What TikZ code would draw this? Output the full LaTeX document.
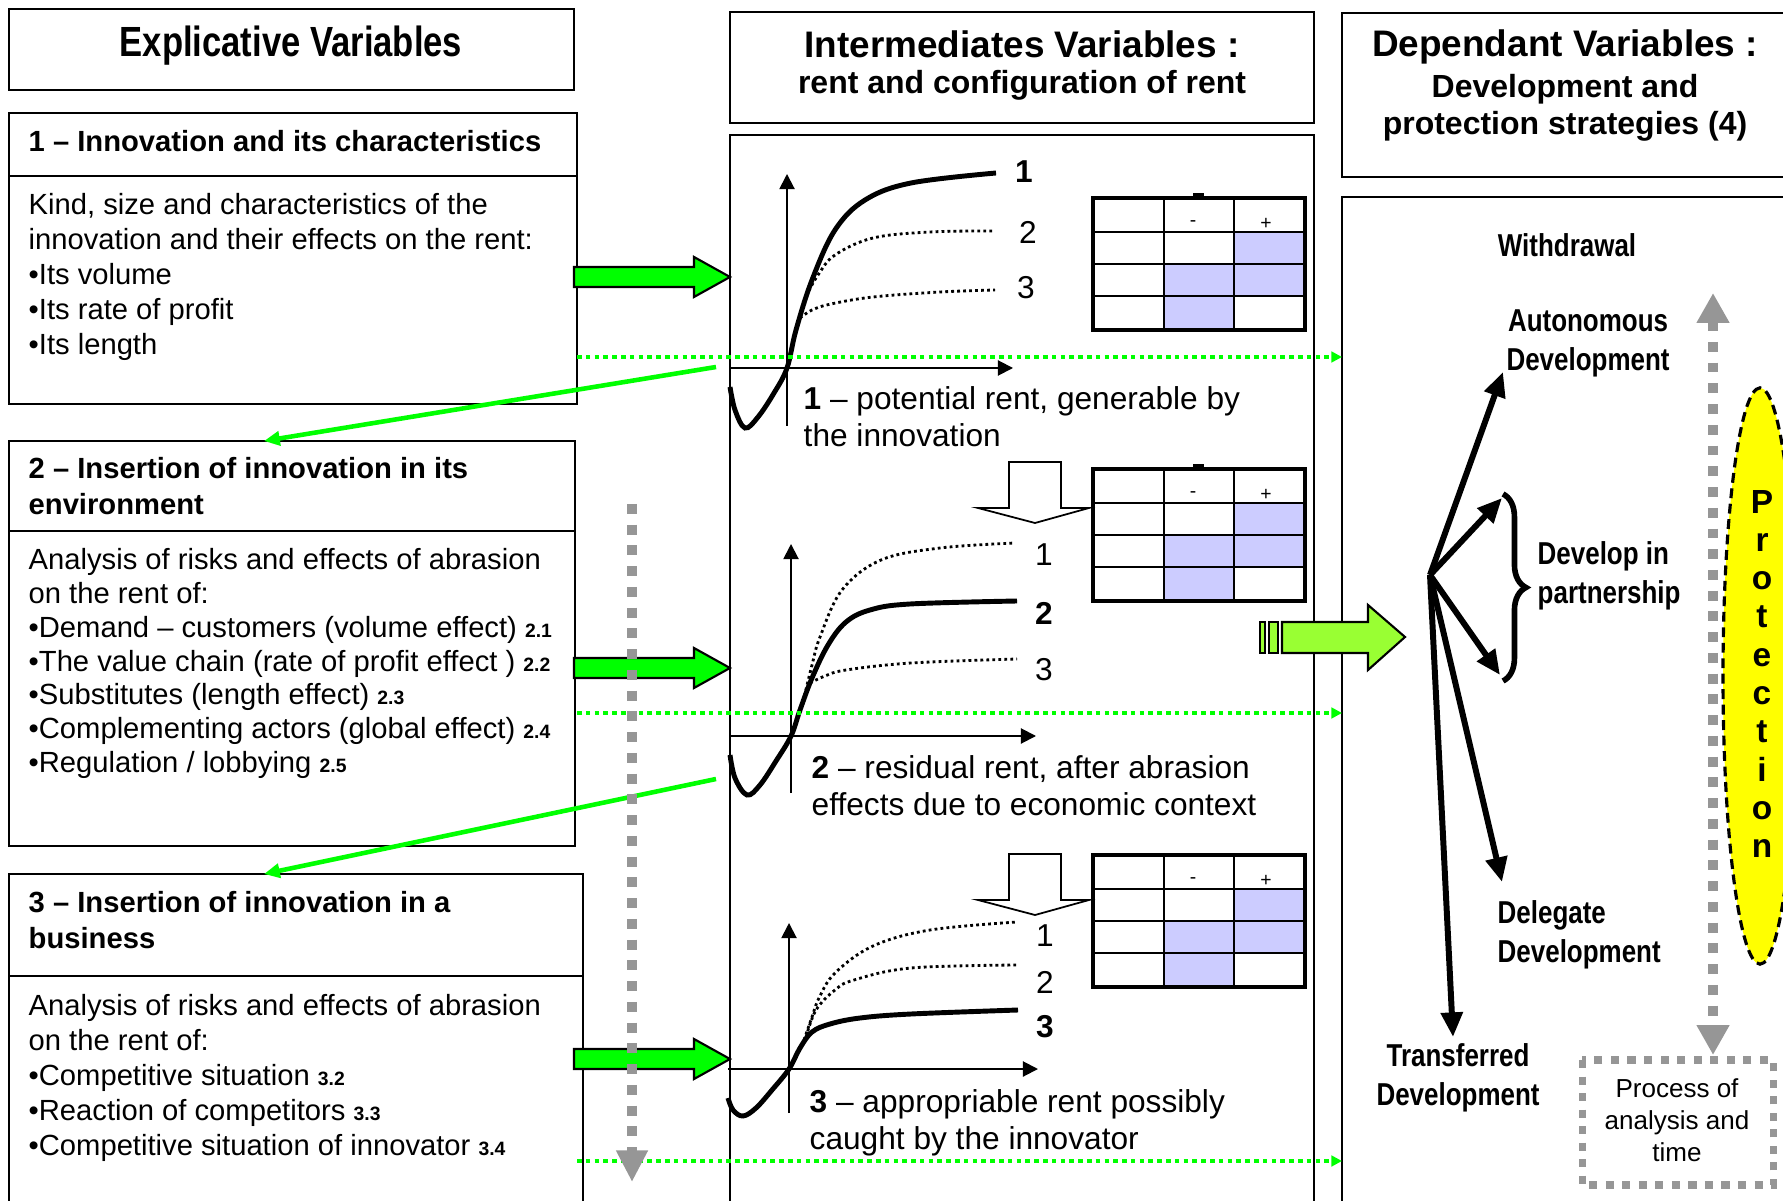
\documentclass[tikz,border=0pt]{standalone}
\usepackage{fontspec}
\setmainfont{Liberation Sans}
\newfontfamily\narrowfont[FakeStretch=0.82]{Liberation Sans}
\usepackage{tikz}
\usetikzlibrary{arrows.meta,decorations.pathreplacing}
\definecolor{mygreen}{RGB}{0,255,0}
\definecolor{mylime}{RGB}{153,255,51}
\definecolor{mylilac}{RGB}{204,204,255}
\definecolor{mygray}{RGB}{150,150,150}
\definecolor{myyellow}{RGB}{255,255,0}
\newcommand{\setfs}[2]{\fontsize{#1}{#2}\selectfont}
\newcommand{\refno}[1]{{\bfseries\setfs{5.5}{6}#1}}

\begin{document}
\begin{tikzpicture}[x=0.01cm, y=-0.01cm,
  box/.style={draw, line width=0.6pt},
  headtxt/.style={anchor=north west, align=left, inner sep=0pt, font=\bfseries\setfs{8.3}{10.2}},
  bodytxt/.style={anchor=north west, align=left, inner sep=0pt, font=\setfs{8.3}{9.9}},
  captxt/.style={anchor=north west, align=left, inner sep=0pt, font=\setfs{9}{10.5}},
  stratxt/.style={inner sep=0pt, font=\narrowfont\bfseries\setfs{9}{11.1}},
  axis/.style={line width=0.55pt, -{Triangle[length=4.3pt, width=4.3pt]}},
  solidrent/.style={line width=1.4pt},
  dotrent/.style={line width=0.8pt, dash pattern=on 0.8pt off 0.9pt},
  blockarrow/.style={draw, line width=0.6pt, fill=mygreen},
  gdots/.style={mygreen, line width=1.1pt, dash pattern=on 1.3pt off 1.2pt, -{Triangle[length=3pt, width=3pt]}},
  gline/.style={mygreen, line width=1.3pt, -{Triangle[length=4.5pt, width=4pt]}},
  gdash/.style={mygray, line width=2.8pt, dash pattern=on 2.8pt off 3.1pt},
  fan/.style={line width=1.7pt, -{Triangle[length=7pt, width=6pt]}}]
\clip (0,0) rectangle (1783,1201);

% Explicative variables
\draw[box] (9,9) rectangle (574,90);
\node[font=\narrowfont\bfseries\setfs{12}{14}] (explic) at (291,46) {Explicative Variables};

\draw[box] (9,113) rectangle (577,404);
\draw[box] (9,176) -- (577,176);
\node[headtxt] (innov) at (28,130) {1 – Innovation and its characteristics};
\node[bodytxt] (innovtxt) at (28,193) {Kind, size and characteristics of the\\innovation and their effects on the rent:\\•Its volume\\•Its rate of profit\\•Its length};

\draw[box] (9,441) rectangle (575,846);
\draw[box] (9,531) -- (575,531);
\node[headtxt] (envir) at (28,457) {2 – Insertion of innovation in its\\environment};
\node[bodytxt, font=\setfs{8.3}{9.6}] (envirtxt) at (28,548) {Analysis of risks and effects of abrasion\\on the rent of:\\•Demand – customers (volume effect) \refno{2.1}\\•The value chain (rate of profit effect ) \refno{2.2}\\•Substitutes (length effect) \refno{2.3}\\•Complementing actors (global effect) \refno{2.4}\\•Regulation / lobbying \refno{2.5}};

\draw[box] (9,874) rectangle (583,1230);
\draw[box] (9,976) -- (583,976);
\node[headtxt] (busi) at (28,891) {3 – Insertion of innovation in a\\business};
\node[bodytxt] (busitxt) at (28,994) {Analysis of risks and effects of abrasion\\on the rent of:\\•Competitive situation \refno{3.2}\\•Reaction of competitors \refno{3.3}\\•Competitive situation of innovator \refno{3.4}};

% Intermediates variables
\draw[box] (730,12) rectangle (1314,123);
\node[font=\bfseries\setfs{10.5}{12}] (inter) at (1022,44) {Intermediates Variables :};
\node[font=\bfseries\setfs{9.1}{11}] (interrent) at (1022,85) {rent and configuration of rent};
\draw[box] (730,135) rectangle (1314,1230);

% Dependant variables
\draw[box] (1342,13) rectangle (1800,177);
\node[font=\bfseries\setfs{10.5}{12}] (depend) at (1565,47) {Dependant Variables :};
\node[font=\bfseries\setfs{9.1}{10.5}, align=center] (strat) at (1565,108) {Development and\\protection strategies (4)};
\draw[box] (1342,197) rectangle (1800,1230);

% tables of rent configuration
\foreach \ty/\bump in {198/1, 469/1, 855/0} {
  \fill[mylilac] (1234,{\ty+34}) rectangle (1305,{\ty+98});
  \fill[mylilac] (1164,{\ty+66}) rectangle (1234,{\ty+132});
  \draw[line width=0.7pt] (1164,\ty) -- (1164,{\ty+132}) (1234,\ty) -- (1234,{\ty+132});
  \draw[line width=0.7pt] (1093,{\ty+34}) -- (1305,{\ty+34}) (1093,{\ty+66}) -- (1305,{\ty+66}) (1093,{\ty+98}) -- (1305,{\ty+98});
  \draw[line width=1.4pt] (1093,\ty) rectangle (1305,{\ty+132});
  \node[font=\setfs{5.5}{6}, inner sep=0pt] at (1193,{\ty+26}) {-};
  \node[font=\setfs{5.5}{6}, inner sep=0pt] at (1266,{\ty+26}) {+};
  \ifnum\bump=1 \fill (1193,{\ty-5}) rectangle (1204,\ty); \fi
}

% hollow arrows between graphs
\foreach \ay in {462, 854} {
  \draw[line width=0.5pt, fill=white] (1009,\ay) -- (1061,\ay) -- (1061,{\ay+46}) -- (1089,{\ay+46}) -- (1035,{\ay+61}) -- (978,{\ay+46}) -- (1009,{\ay+46}) -- cycle;
}

% graph 1 : potential rent
\draw[axis] (730,368) -- (1013,368);
\draw[axis] (787,426) -- (787,174);
\draw[dotrent] plot[smooth, tension=0.6] coordinates {(806,296) (818,275) (835,255) (873,238) (930,232) (994,231)};
\draw[dotrent] plot[smooth, tension=0.6] coordinates {(800,318) (812,310) (831,304) (873,297) (940,292) (995,290)};
\draw[solidrent] plot[smooth, tension=0.6] coordinates {(730,387) (735,410) (745,428) (758,417) (774,393) (787,368) (796,330) (812,280) (835,230) (865,200) (911,183) (996,173)};
\node[font=\bfseries\setfs{9}{10}] (c11) at (1024,172) {1};
\node[font=\setfs{9}{10}] (c12) at (1028,232) {2};
\node[font=\setfs{9}{10}] (c13) at (1026,288) {3};
\node[captxt] (cap1) at (803,386) {\textbf{1} – potential rent, generable by\\the innovation};

% graph 2 : residual rent
\draw[axis] (730,736) -- (1036,736);
\draw[axis] (791,793) -- (791,544);
\draw[dotrent] plot[smooth, tension=0.6] coordinates {(803,702) (812,665) (820,637) (842,590) (881,560) (940,548) (1015,543)};
\draw[dotrent] plot[smooth, tension=0.6] coordinates {(810,683) (825,676) (846,670) (911,663) (1017,659)};
\draw[solidrent] plot[smooth, tension=0.6] coordinates {(730,755) (735,778) (747,795) (760,785) (776,761) (791,736) (800,710) (812,678) (828,645) (846,622) (870,610) (910,604) (1017,601)};
\node[font=\setfs{9}{10}] (c21) at (1044,555) {1};
\node[font=\bfseries\setfs{9}{10}] (c22) at (1044,613) {2};
\node[font=\setfs{9}{10}] (c23) at (1044,670) {3};
\node[captxt] (cap2) at (811,755) {\textbf{2} – residual rent, after abrasion\\effects due to economic context};

% graph 3 : appropriable rent
\draw[axis] (728,1069) -- (1038,1069);
\draw[axis] (789,1113) -- (789,923);
\draw[dotrent] plot[smooth, tension=0.6] coordinates {(804,1040) (812,1017) (819,998) (835,973) (873,946) (930,930) (1017,922)};
\draw[dotrent] plot[smooth, tension=0.6] coordinates {(806,1037) (816,1010) (835,990) (854,980) (911,968) (1018,965)};
\draw[solidrent] plot[smooth, tension=0.6] coordinates {(728,1098) (733,1110) (743,1116) (756,1108) (772,1090) (789,1069) (800,1048) (812,1032) (830,1024) (860,1018) (911,1014) (1018,1010)};
\node[font=\setfs{9}{10}] (c31) at (1045,936) {1};
\node[font=\setfs{9}{10}] (c32) at (1045,982) {2};
\node[font=\bfseries\setfs{9}{10}] (c33) at (1045,1027) {3};
\node[captxt] (cap3) at (809,1089) {\textbf{3} – appropriable rent possibly\\caught by the innovator};

% green block arrows
\foreach \gy in {277, 668, 1059} {
  \draw[blockarrow] (574,{\gy-10}) -- (694,{\gy-10}) -- (694,{\gy-20}) -- (730,\gy) -- (694,{\gy+20}) -- (694,{\gy+10}) -- (574,{\gy+10}) -- cycle;
}

% green dotted links
\foreach \i/\dy in {1/357, 2/713, 3/1161} {
  \coordinate (dl\i) at (577,\dy);
  \coordinate (dr\i) at (1342,\dy);
  \draw[gdots] (dl\i) -- (dr\i);
}

% feedback to next box
\coordinate (g1s) at (716,367);
\coordinate (g1e) at (264,441);
\coordinate (g2s) at (716,779);
\coordinate (g2e) at (264,874);
\draw[gline] (g1s) -- (g1e);
\draw[gline] (g2s) -- (g2e);

% gray time arrows
\coordinate (tl1) at (632,504);
\coordinate (tl2) at (632,1182);
\draw[gdash, -{Triangle[length=9pt, width=8.5pt]}] (tl1) -- (tl2);
\coordinate (tr1) at (1713,293);
\coordinate (tr2) at (1713,1055);
\draw[gdash, {Triangle[length=8.5pt, width=8.8pt]}-{Triangle[length=8.5pt, width=8.8pt]}] (tr1) -- (tr2);

% light green arrow
\draw[draw, line width=0.6pt, fill=mylime] (1282,622) -- (1368,622) -- (1368,605) -- (1405,637) -- (1368,670) -- (1368,653) -- (1282,653) -- cycle;
\draw[draw, line width=0.6pt, fill=mylime] (1269,622) rectangle (1278,653);
\draw[draw, line width=0.6pt, fill=mylime] (1260,622) rectangle (1265,653);

% protection
\draw[fill=myyellow, line width=0.9pt, dash pattern=on 2.8pt off 1.6pt] (1760,676) ellipse [x radius=0.37cm, y radius=2.88cm];
\node[font=\bfseries\setfs{9.5}{10.9}, align=center, inner sep=0pt] (protect) at (1762,674) {P\\r\\o\\t\\e\\c\\t\\i\\o\\n};

% strategies
\node[stratxt] (withdraw) at (1567,245) {Withdrawal};
\node[stratxt, align=center] (auto) at (1588,343) {Autonomous\\Development};
\node[stratxt, align=left, anchor=west] (partner) at (1537,576) {Develop in\\partnership};
\node[stratxt, align=left, anchor=west] (delegate) at (1497,935) {Delegate\\Development};
\node[stratxt, align=center] (transfer) at (1458,1078) {Transferred\\Development};

\coordinate (hub) at (1430,575);
\coordinate (autotip) at (1503,372);
\coordinate (parttop) at (1502,498);
\coordinate (partbot) at (1500,675);
\coordinate (deletip) at (1502,882);
\coordinate (transtip) at (1453,1037);
\draw[fan] (hub) -- (autotip);
\draw[fan] (hub) -- (parttop);
\draw[fan] (hub) -- (partbot);
\draw[fan] (hub) -- (deletip);
\draw[fan] (hub) -- (transtip);
\draw[line width=1.6pt, decorate, decoration={brace, amplitude=6.5pt}] (1503,494) -- (1503,681);

% process box
\draw[mygray, line width=2pt, dash pattern=on 2.3pt off 2.4pt] (1582,1060) rectangle (1773,1185);
\node[font=\setfs{7.4}{9.1}, align=center] (process) at (1677,1120) {Process of\\analysis and\\time};
\end{tikzpicture}
\end{document}
